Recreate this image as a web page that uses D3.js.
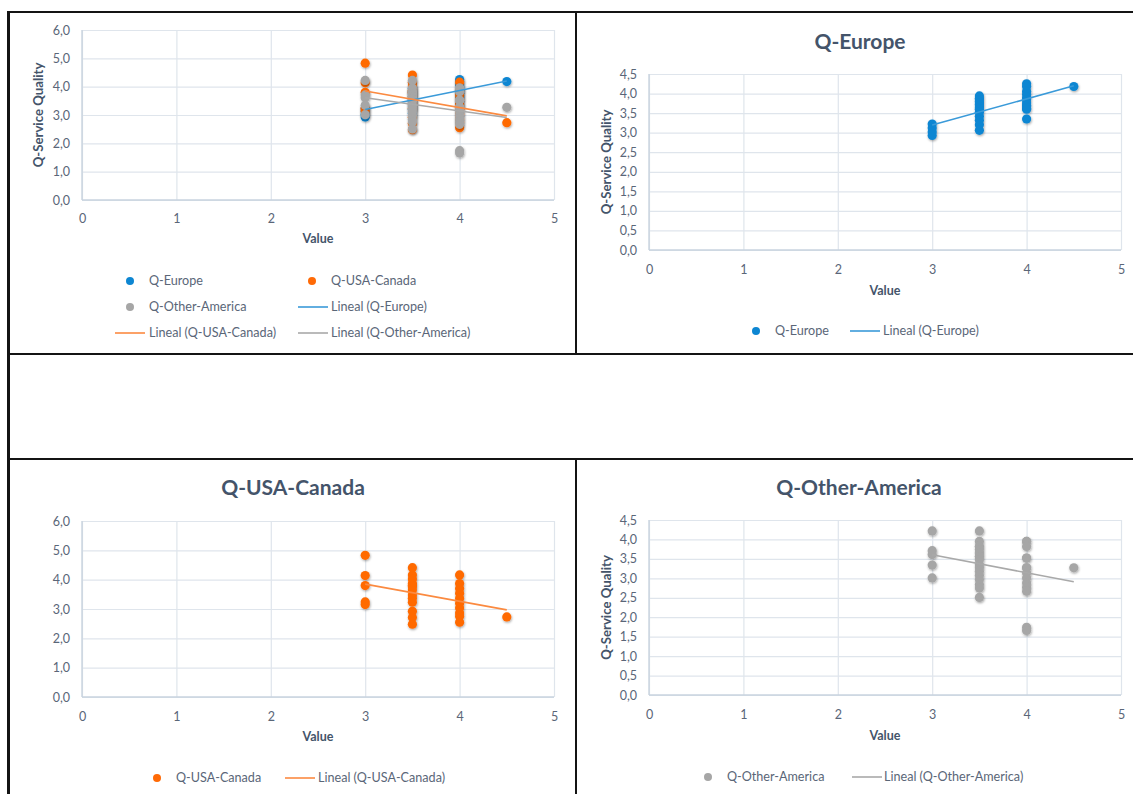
<!DOCTYPE html>
<html>
<head>
<meta charset="utf-8">
<script src="https://cdn.jsdelivr.net/npm/d3@7"></script>
<style>
  body { margin: 0; background: #fff; }
  svg { display: block; font-family: Lato, "Open Sans", sans-serif; }
</style>
</head>
<body>
<svg id="chart" width="1133" height="794"></svg>
<script>
// ---- data -------------------------------------------------------------
const xTicks = [0, 1, 2, 3, 4, 5];
const yTicksWide = [0, 1, 2, 3, 4, 5, 6];
const yTicksNarrow = [0, 0.5, 1, 1.5, 2, 2.5, 3, 3.5, 4, 4.5];

// "Value" levels at which quality scores were recorded
const valueLevels = [3, 3.5, 4, 4.5];

// Q-Service Quality scores, one list per value level
const europeQuality = [
  [3.22, 3.12, 3.02, 2.93],
  [3.94, 3.88, 3.84, 3.80, 3.76, 3.72, 3.68, 3.64, 3.60, 3.52, 3.42, 3.32, 3.20, 3.06],
  [4.25, 4.18, 4.06, 3.98, 3.90, 3.84, 3.76, 3.70, 3.66, 3.62, 3.60, 3.35],
  [4.18]
];
const usaCanadaQuality = [
  [4.83, 4.14, 3.80, 3.24, 3.15],
  [4.41, 4.16, 4.02, 3.87, 3.82, 3.80, 3.76, 3.65, 3.48, 3.37, 3.23, 2.92, 2.71, 2.48],
  [4.16, 3.87, 3.70, 3.54, 3.37, 3.20, 3.03, 2.86, 2.75, 2.55],
  [2.73]
];
const otherAmericaQuality = [
  [4.22, 3.71, 3.61, 3.34, 3.01],
  [4.22, 3.95, 3.82, 3.82, 3.74, 3.65, 3.65, 3.56, 3.56, 3.48, 3.35, 3.27, 3.18, 3.08, 2.97, 2.84, 2.75, 2.51],
  [3.95, 3.95, 3.82, 3.52, 3.52, 3.27, 3.27, 3.14, 3.01, 2.88, 2.77, 2.67, 1.74, 1.66],
  [3.27]
];

const seriesNames = ["Q-Europe", "Q-USA-Canada", "Q-Other-America"];
const seriesValues = [europeQuality, usaCanadaQuality, otherAmericaQuality];

// ---- styles -----------------------------------------------------------
const dotColor = { "Q-Europe": "#0d86d2", "Q-USA-Canada": "#ff6a06", "Q-Other-America": "#a6a6a6" };
const trendColor = { "Q-Europe": "#3a9ad9", "Q-USA-Canada": "#fb8a40", "Q-Other-America": "#a9a9a9" };
const tickText = "#5a6678";
const titleText = "#44546a";
const gridColor = "#dfe5ec";
const axisColor = "#c9d3df";

// flatten grouped scores into points
const points = {};
seriesNames.forEach((name, i) => {
  points[name] = seriesValues[i].flatMap((list, j) => list.map(q => ({ x: valueLevels[j], y: q })));
});

// least-squares linear trend ("Lineal") spanning the data's x range
function linearTrend(pts) {
  const mx = d3.mean(pts, d => d.x), my = d3.mean(pts, d => d.y);
  const sxy = d3.sum(pts, d => (d.x - mx) * (d.y - my));
  const sxx = d3.sum(pts, d => (d.x - mx) ** 2);
  const b = sxy / sxx, a = my - b * mx;
  const [x0, x1] = d3.extent(pts, d => d.x);
  return [{ x: x0, y: a + b * x0 }, { x: x1, y: a + b * x1 }];
}

const svg = d3.select("#chart");
svg.append("rect").attr("width", 1133).attr("height", 794).attr("fill", "#fff");

const defs = svg.append("defs");
defs.append("filter").attr("id", "dotShadow").attr("x", "-50%").attr("y", "-50%").attr("width", "200%").attr("height", "200%")
  .append("feDropShadow").attr("dx", 0.6).attr("dy", 1.2).attr("stdDeviation", 0.9)
  .attr("flood-color", "#000").attr("flood-opacity", 0.35);

// ---- panels -----------------------------------------------------------
const panels = [
  { left: 82, right: 554, top: 30, bottom: 200, yMax: 6, yTicks: yTicksWide,
    series: seriesNames, title: null, yLabelX: 38, tickGap: 18, valueY: 243,
    legend: [
      { kind: "dot", s: "Q-Europe", x: 130, y: 281, text: "Q-Europe", tx: 149 },
      { kind: "dot", s: "Q-USA-Canada", x: 312, y: 281, text: "Q-USA-Canada", tx: 331 },
      { kind: "dot", s: "Q-Other-America", x: 130, y: 307, text: "Q-Other-America", tx: 149 },
      { kind: "line", s: "Q-Europe", x: 298, y: 307, text: "Lineal (Q-Europe)", tx: 331 },
      { kind: "line", s: "Q-USA-Canada", x: 115, y: 333, text: "Lineal (Q-USA-Canada)", tx: 149 },
      { kind: "line", s: "Q-Other-America", x: 298, y: 333, text: "Lineal (Q-Other-America)", tx: 331 }
    ] },
  { left: 649, right: 1121, top: 74, bottom: 250, yMax: 4.5, yTicks: yTicksNarrow,
    series: ["Q-Europe"], title: "Q-Europe", titleX: 860, titleY: 49, yLabelX: 606, tickGap: 19, valueY: 295,
    legend: [
      { kind: "dot", s: "Q-Europe", x: 756, y: 331, text: "Q-Europe", tx: 775 },
      { kind: "line", s: "Q-Europe", x: 850, y: 331, text: "Lineal (Q-Europe)", tx: 883 }
    ] },
  { left: 82, right: 554, top: 521, bottom: 697, yMax: 6, yTicks: yTicksWide,
    series: ["Q-USA-Canada"], title: "Q-USA-Canada", titleX: 293, titleY: 495, yLabelX: null, tickGap: 19, valueY: 741,
    legend: [
      { kind: "dot", s: "Q-USA-Canada", x: 157, y: 778, text: "Q-USA-Canada", tx: 176 },
      { kind: "line", s: "Q-USA-Canada", x: 285, y: 778, text: "Lineal (Q-USA-Canada)", tx: 318 }
    ] },
  { left: 649, right: 1121, top: 520, bottom: 695, yMax: 4.5, yTicks: yTicksNarrow,
    series: ["Q-Other-America"], title: "Q-Other-America", titleX: 859, titleY: 495, yLabelX: 606, tickGap: 19, valueY: 740,
    legend: [
      { kind: "dot", s: "Q-Other-America", x: 708, y: 777, text: "Q-Other-America", tx: 727 },
      { kind: "line", s: "Q-Other-America", x: 852, y: 777, text: "Lineal (Q-Other-America)", tx: 884 }
    ] }
];

const fmtY = d => d3.format(".1f")(d).replace(".", ",");

panels.forEach(p => {
  const g = svg.append("g");
  const x = d3.scaleLinear().domain([0, 5]).range([p.left, p.right]);
  const y = d3.scaleLinear().domain([0, p.yMax]).range([p.bottom, p.top]);

  // vertical gridlines + x tick labels
  const xAxis = g.append("g").attr("transform", `translate(0,${p.bottom})`)
    .call(d3.axisBottom(x).tickValues(xTicks).tickSize(-(p.bottom - p.top)).tickPadding(p.tickGap - 4).tickFormat(d3.format("d")));
  xAxis.select(".domain").remove();
  xAxis.selectAll("line").attr("stroke", gridColor).attr("stroke-width", 1.2);
  xAxis.selectAll("text").attr("fill", tickText).attr("font-size", 12.5).attr("font-family", "Lato, sans-serif");

  // horizontal gridlines + y tick labels
  const yAxis = g.append("g").attr("transform", `translate(${p.left},0)`)
    .call(d3.axisLeft(y).tickValues(p.yTicks).tickSize(-(p.right - p.left)).tickPadding(12).tickFormat(fmtY));
  yAxis.select(".domain").remove();
  yAxis.selectAll("line").attr("stroke", gridColor).attr("stroke-width", 1.2);
  yAxis.selectAll("text").attr("fill", tickText).attr("font-size", 12.5).attr("font-family", "Lato, sans-serif");

  // axis lines
  g.append("line").attr("x1", p.left).attr("x2", p.left).attr("y1", p.top).attr("y2", p.bottom)
    .attr("stroke", axisColor).attr("stroke-width", 1.4);
  g.append("line").attr("x1", p.left).attr("x2", p.right).attr("y1", p.bottom).attr("y2", p.bottom)
    .attr("stroke", axisColor).attr("stroke-width", 1.4);

  // scatter points
  p.series.forEach(s => {
    g.append("g").attr("filter", "url(#dotShadow)")
      .selectAll("circle").data(points[s]).join("circle")
      .attr("cx", d => x(d.x)).attr("cy", d => y(d.y)).attr("r", 4.6)
      .attr("fill", dotColor[s]);
  });

  // linear trend lines
  p.series.forEach(s => {
    g.append("path").datum(linearTrend(points[s]))
      .attr("d", d3.line().x(d => x(d.x)).y(d => y(d.y)))
      .attr("fill", "none").attr("stroke", trendColor[s]).attr("stroke-width", 1.6);
  });

  // titles
  if (p.title) {
    g.append("text").attr("x", p.titleX).attr("y", p.titleY).attr("text-anchor", "middle")
      .attr("font-size", 21).attr("font-weight", 700).attr("fill", titleText).text(p.title);
  }
  g.append("text").attr("x", (p.left + p.right) / 2).attr("y", p.valueY).attr("text-anchor", "middle")
    .attr("font-size", 12.5).attr("font-weight", 700).attr("fill", titleText).text("Value");
  if (p.yLabelX !== null) {
    g.append("text").attr("transform", `translate(${p.yLabelX + 4.5},${(p.top + p.bottom) / 2}) rotate(-90)`)
      .attr("text-anchor", "middle").attr("font-size", 13.2).attr("font-weight", 700)
      .attr("fill", titleText).text("Q-Service Quality");
  }

  // legend
  p.legend.forEach(item => {
    if (item.kind === "dot") {
      g.append("circle").attr("cx", item.x).attr("cy", item.y).attr("r", 4).attr("fill", dotColor[item.s]);
    } else {
      g.append("line").attr("x1", item.x).attr("x2", item.x + 30).attr("y1", item.y).attr("y2", item.y)
        .attr("stroke", trendColor[item.s]).attr("stroke-width", 1.6);
    }
    g.append("text").attr("x", item.tx).attr("y", item.y + 4.3).attr("font-size", 12.6)
      .attr("fill", tickText).text(item.text);
  });
});

// ---- layout frame -----------------------------------------------------
const frame = svg.append("g").attr("stroke", "#141414");
frame.append("line").attr("x1", 7).attr("x2", 1133).attr("y1", 12).attr("y2", 12).attr("stroke-width", 2.2);
frame.append("line").attr("x1", 8.5).attr("x2", 8.5).attr("y1", 11).attr("y2", 794).attr("stroke-width", 3);
frame.append("line").attr("x1", 576).attr("x2", 576).attr("y1", 12).attr("y2", 354).attr("stroke-width", 2);
frame.append("line").attr("x1", 576).attr("x2", 576).attr("y1", 459).attr("y2", 794).attr("stroke-width", 2);
frame.append("line").attr("x1", 8).attr("x2", 1133).attr("y1", 354).attr("y2", 354).attr("stroke-width", 2);
frame.append("line").attr("x1", 8).attr("x2", 1133).attr("y1", 459).attr("y2", 459).attr("stroke-width", 2);
</script>
</body>
</html>
